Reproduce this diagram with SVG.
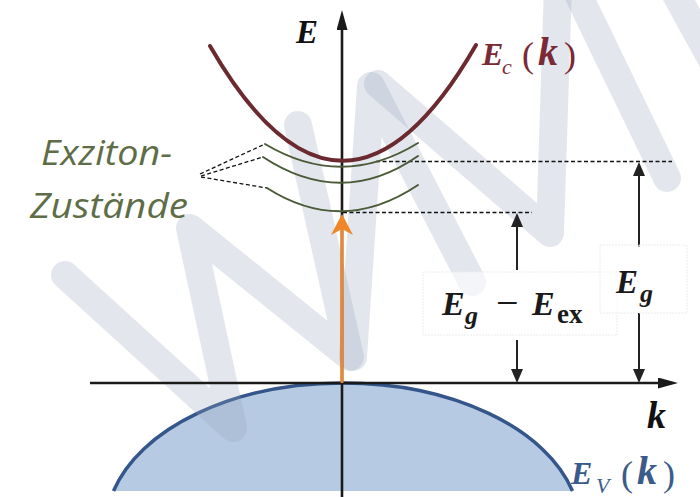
<svg xmlns="http://www.w3.org/2000/svg" width="700" height="497" viewBox="0 0 700 497">
<defs>
<style>
.axis{stroke:#1a1a1a;stroke-width:2.6;fill:none}
.dim{stroke:#222;stroke-width:2;fill:none}
.dash{stroke:#111;stroke-width:1.3;fill:none;stroke-dasharray:4 2.5}
.exc{stroke:#4b5a38;stroke-width:2;fill:none;stroke-linecap:round}
.cb{stroke:#6a2a30;stroke-width:4;fill:none;stroke-linecap:round}
.vbf{fill:#b7cae3;stroke:none}
.vbs{fill:none;stroke:#34568a;stroke-width:3.5}
.wm{fill:none;stroke:#96a5be;stroke-opacity:0.27;stroke-width:28;stroke-linecap:round;stroke-linejoin:round}
.math{font-family:"Liberation Serif","DejaVu Serif",serif;font-weight:bold;font-style:italic}
.par{font-style:normal;font-weight:normal}
.box{fill:#fff;fill-opacity:0.6;stroke:#ececec;stroke-width:1;stroke-dasharray:2 1}
.lbl{font-family:"Open Sans",Lato,sans-serif;font-style:italic;fill:#5e6d48;font-size:35px}
</style>
<marker id="axhead" markerUnits="userSpaceOnUse" viewBox="0 0 20 11" markerWidth="20" markerHeight="11" refX="10" refY="5.5" orient="auto"><path d="M0,0 L20,5.5 L0,11 z" fill="#1a1a1a"/></marker>
<marker id="dimhead" markerUnits="userSpaceOnUse" viewBox="0 0 14 12" markerWidth="14" markerHeight="12" refX="4" refY="6" orient="auto"><path d="M0,0 L14,6 L0,12 z" fill="#222"/></marker>
<marker id="orhead" markerUnits="userSpaceOnUse" viewBox="0 0 21 22" markerWidth="21" markerHeight="22" refX="11" refY="11" orient="auto"><path d="M0,0 L21,11 L0,22 L6,11 z" fill="#f0862a"/></marker>
</defs>
<rect width="700" height="497" fill="#fff"/>
<g id="valence-band">
<path class="vbf" d="M113.5,491 A237,144 0 0 1 572.5,491 Z"/>
<path class="vbs" d="M113.5,491 A237,144 0 0 1 572.5,491"/>
</g>
<g id="watermark">
<path class="wm" d="M65,275 L233,428 L190,228 L350,357 L298,125"/>
<path class="wm" d="M353,357 L371,86 L472,282"/>
<path class="wm" d="M378,84 L550,233 L558,-15"/>
<path class="wm" d="M576,-10 L667,178"/>
<path class="wm" d="M668,-20 L712,60"/>
</g>
<g id="connectors">
<line class="axis" x1="90" y1="383" x2="668" y2="383" marker-end="url(#axhead)"/>
<line class="axis" x1="342" y1="497" x2="342" y2="20" marker-end="url(#axhead)"/>
<line x1="342" y1="383" x2="342" y2="224" stroke="#f0862a" stroke-width="3" marker-end="url(#orhead)"/>
<line class="dash" x1="376" y1="161.5" x2="672" y2="161.5"/>
<line class="dash" x1="343" y1="212.5" x2="532" y2="212.5"/>
<line class="dash" x1="200" y1="174" x2="265" y2="144"/>
<line class="dash" x1="201" y1="176" x2="263" y2="157"/>
<line class="dash" x1="201" y1="177" x2="267" y2="188"/>
<line class="dim" x1="517" y1="270" x2="517" y2="223" marker-end="url(#dimhead)"/>
<line class="dim" x1="517" y1="340" x2="517" y2="373" marker-end="url(#dimhead)"/>
<line class="dim" x1="639" y1="247" x2="639" y2="172" marker-end="url(#dimhead)"/>
<line class="dim" x1="639" y1="313" x2="639" y2="373" marker-end="url(#dimhead)"/>
</g>
<g id="conduction-band">
<path class="cb" d="M210,46 Q343,276 476,45"/>
</g>
<g id="exciton-states">
<path class="exc" d="M265,144 Q342,190 418,143"/>
<path class="exc" d="M263,157 Q342,209 418,156"/>
<path class="exc" d="M267,188 Q342,236 418,185"/>
</g>
<g id="label-exciton">
<text class="lbl" x="41" y="165" textLength="131" lengthAdjust="spacingAndGlyphs">Exziton-</text>
<text class="lbl" x="30" y="218" textLength="158" lengthAdjust="spacingAndGlyphs">Zustände</text>
</g>
<g id="label-E">
<text class="math" x="296" y="43" font-size="33" fill="#111">E</text>
</g>
<g id="label-k">
<text class="math" x="647" y="428" font-size="38" fill="#111">k</text>
</g>
<g id="label-Ec">
<text class="math" font-size="32" fill="#7a2a36"><tspan x="482" y="65">E</tspan><tspan x="502" y="74" font-size="22" font-weight="normal">c</tspan><tspan x="522" y="67" font-size="36" class="par">(</tspan><tspan x="538" y="65" font-size="40">k</tspan><tspan x="564" y="67" font-size="36" class="par">)</tspan></text>
</g>
<g id="label-Ev">
<text class="math" font-size="32" fill="#3b5b8a"><tspan x="571" y="484">E</tspan><tspan x="596" y="493" font-size="22" font-weight="normal">V</tspan><tspan x="621" y="486" font-size="36" class="par">(</tspan><tspan x="637" y="484" font-size="40">k</tspan><tspan x="663" y="486" font-size="36" class="par">)</tspan></text>
</g>
<g id="label-Eg-Eex">
<rect class="box" x="423" y="272" width="194" height="63"/>
<text class="math" font-size="34" fill="#1a1a1a"><tspan x="442" y="315">E</tspan><tspan x="465" y="324" font-size="26">g</tspan><tspan x="496" y="316" font-size="40" class="par">−</tspan><tspan x="532" y="315">E</tspan><tspan x="557" y="323" font-size="27" font-style="normal">ex</tspan></text>
</g>
<g id="label-Eg">
<rect class="box" x="600" y="245" width="87" height="68"/>
<text class="math" font-size="33" fill="#1a1a1a"><tspan x="616" y="293">E</tspan><tspan x="640" y="302" font-size="26">g</tspan></text>
</g>
</svg>
